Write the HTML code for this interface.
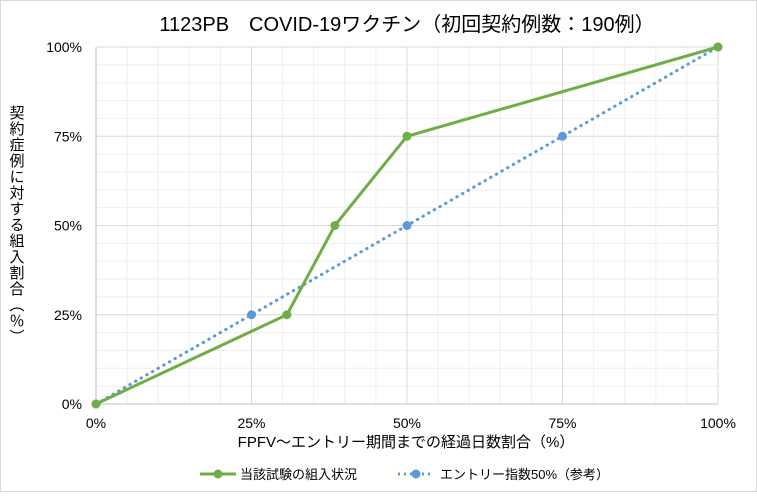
<!DOCTYPE html>
<html><head><meta charset="utf-8"><style>
body{margin:0;background:#fff;}
svg text{font-family:"Liberation Sans","Noto Sans CJK JP",sans-serif;fill:#000;}
</style></head><body>
<svg width="757" height="492">
<rect x="0.5" y="0.5" width="756" height="491" fill="#fff" stroke="#d9d9d9"/>
<text x="407" y="31" font-size="20" text-anchor="middle">1123PB　COVID-19ワクチン（初回契約例数：190例）</text>
<g id="grid"></g><g id="axes"></g><g id="series"></g>
<text x="406" y="447" font-size="15" text-anchor="middle">FPFV～エントリー期間までの経過日数割合（%）</text>
<text transform="translate(16,105)" font-size="15" style="writing-mode:vertical-rl;letter-spacing:1px">契約症例に対する組入割合（％）</text>
<g>
<line x1="200" y1="474" x2="236" y2="474" stroke="#70ad47" stroke-width="3"/>
<circle cx="218" cy="474" r="4.5" fill="#70ad47"/>
<text x="240" y="479" font-size="13">当該試験の組入状況</text>
<line x1="398" y1="474" x2="434" y2="474" stroke="#5b9bd5" stroke-width="3" stroke-dasharray="2,4"/>
<circle cx="416" cy="474" r="4.5" fill="#5b9bd5"/>
<text x="440" y="479" font-size="13">エントリー指数50%（参考）</text>
</g>
</svg>
<script>
const xTicks=[0,25,50,75,100];
const yTicks=[0,25,50,75,100];
const tickLabels=["0%","25%","50%","75%","100%"];
const actualX=[0,30.7,38.4,50,100];
const actualY=[0,25,50,75,100];
const indexX=[0,25,50,75,100];
const indexY=[0,25,50,75,100];
const L=96,R=718,T=47,B=404;
const sx=v=>L+(R-L)*v/100, sy=v=>B-(B-T)*v/100;
const NS="http://www.w3.org/2000/svg";
function mk(tag,attrs,parent){const e=document.createElementNS(NS,tag);for(const k in attrs)e.setAttribute(k,attrs[k]);parent.appendChild(e);return e;}
const grid=document.getElementById('grid'),axes=document.getElementById('axes'),ser=document.getElementById('series');
for(let v=5;v<=100;v+=5){
 const major=v%25===0;
 const gx=mk('line',{x1:sx(v),x2:sx(v),y1:T,y2:B,stroke:major?'#d9d9d9':'#eeeeee','stroke-width':1},grid);
 
 
 const gy=mk('line',{x1:L,x2:R,y1:sy(v),y2:sy(v),stroke:major?'#d9d9d9':'#eeeeee','stroke-width':1},grid);
 
 
}
const ax=mk('line',{x1:L,x2:R,y1:B,y2:B,stroke:'#bfbfbf'},axes);


const ay=mk('line',{x1:L,x2:L,y1:T,y2:B,stroke:'#bfbfbf'},axes);


xTicks.forEach((v,i)=>{const t=mk('text',{x:sx(v),y:428,'font-size':14,'text-anchor':'middle'},axes);t.textContent=tickLabels[i];
 
 });
yTicks.forEach((v,i)=>{const t=mk('text',{x:82,y:sy(v)+5,'font-size':14,'text-anchor':'end'},axes);t.textContent=tickLabels[i];
 
 });
function series(xs,ys,color,dash,name){
 const p=mk('polyline',{points:xs.map((x,i)=>sx(x)+','+sy(ys[i])).join(' '),fill:'none',stroke:color,'stroke-width':3,'stroke-dasharray':dash,'stroke-linecap':dash?'round':'butt'},ser);
 
 
 xs.forEach((x,i)=>{const c=mk('circle',{cx:sx(x),cy:sy(ys[i]),r:4.5,fill:color},ser);
  
  });
}
series(indexX,indexY,'#5b9bd5','0.5,6','index');
series(actualX,actualY,'#70ad47','','actual');
</script>
</body></html>
